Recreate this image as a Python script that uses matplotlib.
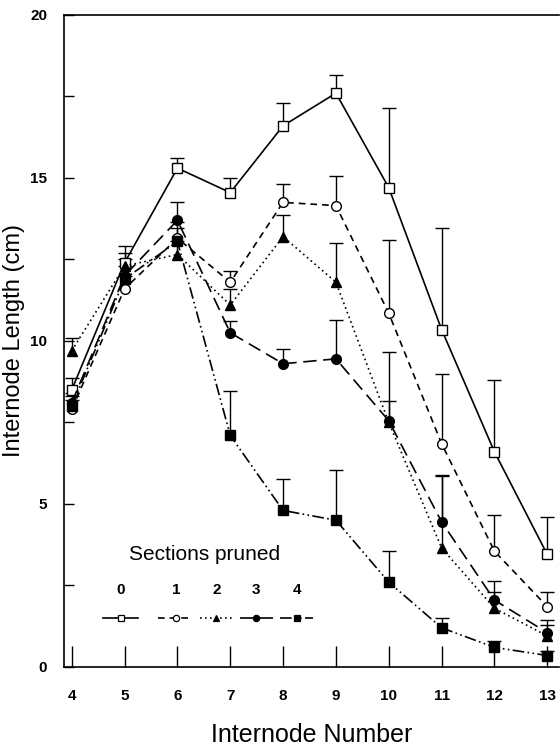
import matplotlib
matplotlib.use("Agg")
import matplotlib.pyplot as plt
import numpy as np

plt.rcParams['font.family'] = ['Liberation Sans', 'DejaVu Sans']

internode = [4, 5, 6, 7, 8, 9, 10, 11, 12, 13]
sections = ["0", "1", "2", "3", "4"]

len_0 = [8.5, 12.4, 15.3, 14.55, 16.6, 17.6, 14.7, 10.35, 6.6, 3.45]
err_0 = [0.35, 0.5, 0.3, 0.45, 0.7, 0.55, 2.45, 3.1, 2.2, 1.15]
len_1 = [7.9, 11.6, 13.15, 11.8, 14.25, 14.15, 10.85, 6.85, 3.55, 1.85]
err_1 = [0.3, 0.4, 0.5, 0.35, 0.55, 0.9, 2.25, 2.15, 1.1, 0.45]
len_2 = [9.7, 12.3, 12.65, 11.1, 13.2, 11.8, 7.5, 3.65, 1.8, 0.95]
err_2 = [0.4, 0.4, 0.4, 0.5, 0.65, 1.2, 2.15, 2.2, 0.5, 0.35]
len_3 = [8.1, 12.0, 13.7, 10.25, 9.3, 9.45, 7.55, 4.45, 2.05, 1.05]
err_3 = [0.3, 0.5, 0.55, 0.35, 0.45, 1.2, 0.6, 1.45, 0.6, 0.4]
len_4 = [8.0, 11.9, 13.05, 7.1, 4.8, 4.5, 2.6, 1.2, 0.6, 0.35]
err_4 = [0.3, 0.4, 0.4, 1.35, 0.95, 1.55, 0.95, 0.3, 0.2, 0.15]

series = [
    (len_0, err_0, '-', 's', 'white'),
    (len_1, err_1, (0, (4, 3)), 'o', 'white'),
    (len_2, err_2, (0, (1, 2)), '^', 'black'),
    (len_3, err_3, (0, (8, 4)), 'o', 'black'),
    (len_4, err_4, (0, (7, 2, 1, 2, 1, 2)), 's', 'black'),
]

fig = plt.figure(figsize=(5.6, 7.46), dpi=100)
ax = fig.add_axes([0.114, 0.106, 0.884, 0.874])

for vals, errs, ls, mk, fc in series:
    lower = np.zeros(len(errs))
    line, caps, bars = ax.errorbar(internode, vals, yerr=[lower, errs],
                                   color='black', linestyle=ls, linewidth=1.2,
                                   marker=mk, markersize=7, markerfacecolor=fc,
                                   markeredgecolor='black', markeredgewidth=1.0,
                                   elinewidth=1.0, capsize=5, capthick=1.0,
                                   zorder=3)
    caps[0].set_visible(False)

# Legend drawn manually in axes coordinates
ax.text(0.285, 0.172, "Sections pruned", transform=ax.transAxes,
        fontsize=15, ha='center', va='center')
leg_x = [0.115, 0.227, 0.308, 0.389, 0.472]
seg = [(-0.035, 0.035), (-0.037, 0.030), (-0.033, 0.035), (-0.033, 0.033), (-0.035, 0.032)]
leg_styles = [s[2:] for s in series]
for lab, cx, (a, b), (ls, mk, fc) in zip(sections, leg_x, seg, leg_styles):
    ax.plot([cx + a, cx, cx + b], [0.075, 0.075, 0.075], transform=ax.transAxes,
            color='black', linestyle=ls, linewidth=1.2, marker=mk,
            markevery=[1], markersize=4.5, markerfacecolor=fc,
            markeredgecolor='black', markeredgewidth=0.9, clip_on=False)
    ax.text(cx, 0.118, lab, transform=ax.transAxes, fontsize=11,
            fontweight='bold', ha='center', va='center')

ax.set_xlim(3.85, 13.22)
ax.set_ylim(0, 20)
ax.set_xticks(internode)
ax.set_yticks([0, 5, 10, 15, 20])
ax.set_yticks([2.5, 7.5, 12.5, 17.5], minor=True)
ax.tick_params(axis='x', direction='in', length=15, width=1.0, labelsize=11, pad=16)
ax.tick_params(axis='y', which='both', direction='in', length=7, width=1.0,
               labelsize=11, pad=12)
for lab in ax.get_xticklabels() + ax.get_yticklabels():
    lab.set_fontweight('bold')

ax.spines['right'].set_visible(False)
for sp in ['left', 'top', 'bottom']:
    ax.spines[sp].set_linewidth(1.2)

ax.set_xlabel("Internode Number", fontsize=18, labelpad=14)
ax.set_ylabel("Internode Length (cm)", fontsize=17, labelpad=4)

fig.savefig("out.png", dpi=100, facecolor='white')
